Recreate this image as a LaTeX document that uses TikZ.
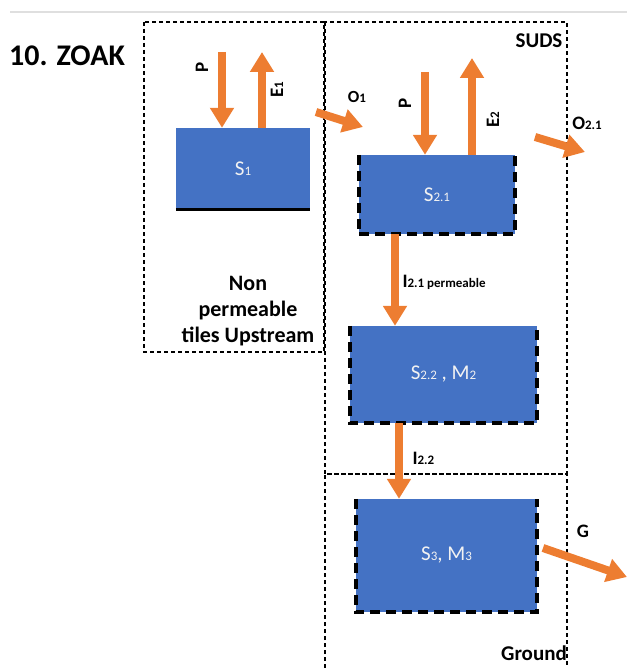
\documentclass[tikz,border=0pt]{standalone}
\usepackage{fontspec}
\setmainfont{Carlito}
\usepackage{tikz}
\usetikzlibrary{arrows.meta, positioning}
\definecolor{suBlue}{HTML}{4472C4}
\definecolor{suOrange}{HTML}{ED7D31}
\newcommand\lo[1]{{\fontsize{13}{13}\selectfont #1}}

\begin{document}
\begin{tikzpicture}[x=1pt, y=1pt,
  every node/.style={font=\fontsize{21}{21}\selectfont},
  blk/.style={fill=suBlue, draw=none, inner sep=0pt, text=white!95!black},
  blkedge/.style={line width=3.5pt, dash pattern=on 10pt off 6pt},
  zone/.style={line width=1.2pt, dash pattern=on 4pt off 3pt},
  flow/.style={suOrange, line width=8pt, -{Triangle[width=23pt, length=20pt]}},
  lbl/.style={font=\bfseries\fontsize{19}{19}\selectfont},
  area/.style={font=\bfseries\fontsize{21}{26}\selectfont}
]
  \useasboundingbox (0,0) rectangle (627,-668);
  \draw[gray!25, line width=2pt] (10,-12) -- (627,-12);

  \node[font=\bfseries\fontsize{30}{30}\selectfont] (title) at (67,-56) {10. ZOAK};

  % zones
  \draw[zone] (144,-22) rectangle (324,-352);
  \draw[zone] (325,-22) rectangle (567,-474);
  \draw[zone] (325,-668) -- (325,-474) -- (567,-474) -- (567,-668);
  \node[area, align=center, font=\bfseries\fontsize{22}{26}\selectfont] (upstream) at (248,-311)
    {Non\\permeable\\tiles Upstream};
  \node[area] (suds) at (539,-41) {SUDS};
  \node[area] (ground) at (534,-653) {Ground};

  % storages
  \node[blk, minimum width=134pt, minimum height=81pt] (s1) at (243,-168.5) {S\lo{1}};
  \draw[line width=3pt] (s1.south west) -- (s1.south east);
  \node[blk, minimum width=156pt, minimum height=79pt] (s21) at (437,-194.5) {S\lo{2.1}};
  \node[blk, minimum width=187pt, minimum height=97pt] (s22) at (443.5,-374.5) {S\lo{2.2} , M\lo{2}};
  \node[blk, minimum width=181pt, minimum height=113pt] (s3) at (446.5,-555.5) {S\lo{3}, M\lo{3}};
  \foreach \b in {s21,s22,s3}
    \draw[blkedge] (\b.north west) -- (\b.south west) -- (\b.south east) -- (\b.north east);

  % free ends
  \coordinate (p1) at (222,-52);
  \coordinate (e1) at (262,-52);
  \coordinate (p2) at (425,-72);
  \coordinate (e2) at (472,-58);
  \coordinate (o1a) at (316,-112);
  \coordinate (o1b) at (363,-127);
  \coordinate (o2a) at (535,-137);
  \coordinate (o2b) at (585,-152);
  \coordinate (i21) at (395,0);
  \coordinate (i22) at (399,0);
  \coordinate (ga) at (543,-548);
  \coordinate (gb) at (627,-577);

  % flows
  \draw[flow] (p1) -- (p1 |- s1.north);
  \draw[flow] (e1 |- s1.north) -- (e1);
  \draw[flow] (o1a) -- (o1b);
  \draw[flow] (p2) -- (p2 |- s21.north);
  \draw[flow] (e2 |- s21.north) -- (e2);
  \draw[flow] (o2a) -- (o2b);
  \draw[flow] (i21 |- s21.south) -- (i21 |- s22.north);
  \draw[flow] (i22 |- s22.south) -- (i22 |- s3.north);
  \draw[flow] (ga) -- (gb);

  \node[lbl, rotate=90] (lp1) at (202,-67) {P};
  \node[lbl, rotate=90] (le1) at (277,-90) {E\lo{1}};
  \node[lbl, font=\bfseries\fontsize{17}{17}\selectfont] (lo1) at (357,-97) {O\lo{1}};
  \node[lbl, rotate=90] (lp2) at (405,-103) {P};
  \node[lbl, rotate=90] (le2) at (493,-120) {E\lo{2}};
  \node[lbl] (lo2) at (587,-123) {O\lo{2.1}};
  \node[lbl, anchor=west] (li21) at (399,-282) {I\lo{2.1 permeable}};
  \node[lbl, anchor=west] (li22) at (409,-458) {I\lo{2.2}};
  \node[lbl] (lg) at (583,-531) {G};
\end{tikzpicture}
\end{document}
